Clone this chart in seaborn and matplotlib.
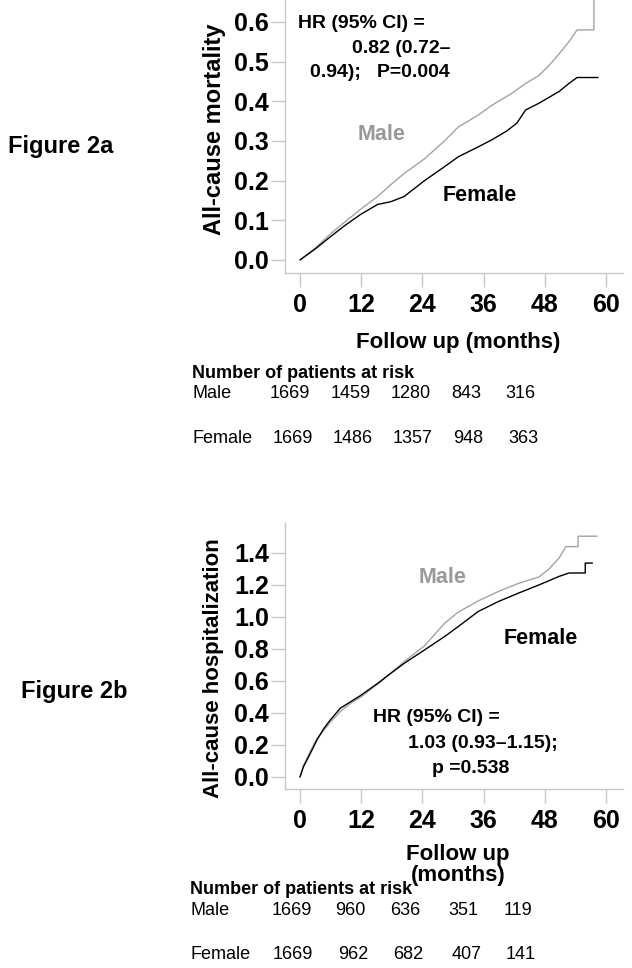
import matplotlib
matplotlib.use("Agg")
import matplotlib.pyplot as plt
import seaborn as sns
import numpy as np
import pandas as pd

W, H = 632, 968

# ---- data ----
# Figure 2a: all-cause mortality (cumulative incidence)
mort_male_t = [0, 3, 5.9, 8.9, 11.9, 15.2, 17.8, 20.4, 24.4, 28.3, 31.0, 34.9, 37.6,
               41.5, 44.2, 46.8, 48.8, 50.8, 52.7, 54.3, 57.6, 57.6]
mort_male_v = [0, .03, .065, .097, .128, .16, .19, .218, .255, .30, .335, .365, .39,
               .42, .445, .465, .49, .52, .55, .58, .58, .80]
mort_female_t = [0, 3, 5.9, 8.9, 11.9, 15.2, 17.8, 20.4, 24.4, 28.3, 31.0, 34.9, 37.6,
                 40.5, 42.5, 44.2, 46.8, 48.8, 50.8, 52.7, 54.3, 58.4]
mort_female_v = [0, .028, .058, .088, .115, .14, .147, .16, .20, .235, .26, .285, .303,
                 .325, .345, .378, .395, .41, .425, .445, .46, .46]

# Figure 2b: all-cause hospitalization (cumulative events)
hosp_male_t = [0, 0.66, 2.0, 3.3, 4.6, 5.9, 7.9, 9.9, 11.9, 15.2, 17.8, 20.4, 24.4, 28.3,
               31.0, 34.9, 38.9, 42.8, 46.8, 48.8, 50.8, 52.1, 54.5, 54.5, 58.2]
hosp_male_v = [0, .07, .16, .24, .29, .34, .41, .46, .50, .58, .65, .72, .82, .96,
               1.03, 1.10, 1.16, 1.21, 1.25, 1.30, 1.37, 1.44, 1.44, 1.505, 1.505]
hosp_female_t = [0, 0.66, 2.0, 3.3, 4.6, 5.9, 7.9, 9.9, 11.9, 15.2, 17.8, 20.4, 24.4, 28.3,
                 31.0, 34.9, 38.9, 42.8, 46.8, 50.8, 52.7, 55.9, 55.9, 57.3]
hosp_female_v = [0, .063, .146, .23, .30, .355, .43, .47, .51, .585, .648, .71, .794, .877,
                 .94, 1.034, 1.097, 1.149, 1.20, 1.254, 1.275, 1.275, 1.337, 1.337]

x_ticks = [0, 12, 24, 36, 48, 60]
mort_yticks = [0.0, 0.1, 0.2, 0.3, 0.4, 0.5, 0.6]
hosp_yticks = [0.0, 0.2, 0.4, 0.6, 0.8, 1.0, 1.2, 1.4]

risk_a_male = [1669, 1459, 1280, 843, 316]
risk_a_female = [1669, 1486, 1357, 948, 363]
risk_b_male = [1669, 960, 636, 351, 119]
risk_b_female = [1669, 962, 682, 407, 141]

# pixel columns of the at-risk numbers
cols_a_male = [290, 351, 411, 466, 520]
cols_a_female = [293, 353, 413, 468, 523]
cols_b_male = [292, 350, 405, 463, 518]
cols_b_female = [293, 353, 408, 467, 521]

MALE_C = "#a3a3a3"
FEMALE_C = "#000000"
SPINE_C = "#c8c8c8"

sns.set_style("ticks")
plt.rcParams["font.family"] = ["Liberation Sans", "DejaVu Sans"]
plt.rcParams["text.color"] = "black"

fig = plt.figure(figsize=(W / 100, H / 100), dpi=100)


def fx(x):
    return x / W


def fy(y):
    return 1 - y / H


def txt(x, y, s, **kw):
    fig.text(fx(x), fy(y), s, **kw)


def make_df(mt, mv, ft, fv):
    return pd.concat([
        pd.DataFrame({"t": mt, "v": mv, "sex": "Male"}),
        pd.DataFrame({"t": ft, "v": fv, "sex": "Female"}),
    ], ignore_index=True)


def style_axes(ax, yticks, ylim):
    ax.set_xlim(-2.94, 63.3)
    ax.set_ylim(*ylim)
    ax.set_xticks(x_ticks)
    ax.set_xticklabels([str(t) for t in x_ticks])
    ax.set_yticks(yticks)
    ax.set_yticklabels([f"{t:.1f}" for t in yticks])
    for s in ["top", "right"]:
        ax.spines[s].set_visible(False)
    for s in ["left", "bottom"]:
        ax.spines[s].set_color(SPINE_C)
        ax.spines[s].set_linewidth(1.0)
    ax.tick_params(axis="both", direction="out", length=10, width=1, color=SPINE_C,
                   labelcolor="black", labelsize=18)
    ax.tick_params(axis="x", pad=4.5)
    ax.tick_params(axis="y", pad=1.5)
    for lbl in ax.get_xticklabels() + ax.get_yticklabels():
        lbl.set_fontweight("bold")
    ax.set_xlabel("")
    ax.set_ylabel("")
    if ax.get_legend() is not None:
        ax.get_legend().remove()


pal = {"Male": MALE_C, "Female": FEMALE_C}

# ---- Figure 2a ----
ax1 = fig.add_axes([fx(285), fy(273), fx(623) - fx(285), 273 / H])
df_a = make_df(mort_male_t, mort_male_v, mort_female_t, mort_female_v)
sns.lineplot(data=df_a, x="t", y="v", hue="sex", estimator=None, sort=False,
             palette=pal, linewidth=1.0, ax=ax1)
style_axes(ax1, mort_yticks, (-0.0328, 0.6554))

# ---- Figure 2b ----
ax2 = fig.add_axes([fx(285), fy(789), fx(623) - fx(285), 266 / H])
df_b = make_df(hosp_male_t, hosp_male_v, hosp_female_t, hosp_female_v)
sns.lineplot(data=df_b, x="t", y="v", hue="sex", estimator=None, sort=False,
             palette=pal, linewidth=1.0, ax=ax2)
style_axes(ax2, hosp_yticks, (-0.075, 1.5875))

bold = dict(fontweight="bold")

# panel titles
txt(8, 153, "Figure 2a", fontsize=17, va="baseline", **bold)
txt(21, 698, "Figure 2b", fontsize=17, va="baseline", **bold)

# y labels
txt(215, 129, "All-cause mortality", fontsize=17, rotation=90, ha="center", va="center", **bold)
txt(214, 668, "All-cause hospitalization", fontsize=16, rotation=90, ha="center", va="center", **bold)

# x labels
txt(458, 348, "Follow up (months)", fontsize=16, ha="center", va="baseline", **bold)
txt(458, 860, "Follow up", fontsize=16, ha="center", va="baseline", **bold)
txt(458, 881, "(months)", fontsize=16, ha="center", va="baseline", **bold)

# HR annotations
txt(298, 28, "HR (95% CI) =", fontsize=14, va="baseline", **bold)
txt(450, 53, "0.82 (0.72–", fontsize=14, ha="right", va="baseline", **bold)
txt(450, 77, "0.94);   P=0.004", fontsize=14, ha="right", va="baseline", **bold)
txt(373, 722, "HR (95% CI) =", fontsize=14, va="baseline", **bold)
txt(408, 748, "1.03 (0.93–1.15);", fontsize=14, va="baseline", **bold)
txt(432, 773, "p =0.538", fontsize=14, va="baseline", **bold)

# curve labels
txt(382, 140, "Male", fontsize=15.5, color="#999999", ha="center", va="baseline", **bold)
txt(480, 201, "Female", fontsize=15.5, color=FEMALE_C, ha="center", va="baseline", **bold)
txt(443, 583, "Male", fontsize=15.5, color="#999999", ha="center", va="baseline", **bold)
txt(541, 644, "Female", fontsize=15.5, color=FEMALE_C, ha="center", va="baseline", **bold)

# number at risk tables
txt(192, 378, "Number of patients at risk", fontsize=13, va="baseline", **bold)
txt(192, 398, "Male", fontsize=13, va="baseline")
txt(192, 443, "Female", fontsize=13, va="baseline")
for x, n in zip(cols_a_male, risk_a_male):
    txt(x, 398, str(n), fontsize=13, ha="center", va="baseline")
for x, n in zip(cols_a_female, risk_a_female):
    txt(x, 443, str(n), fontsize=13, ha="center", va="baseline")

txt(190, 894, "Number of patients at risk", fontsize=13, va="baseline", **bold)
txt(190, 915, "Male", fontsize=13, va="baseline")
txt(190, 959, "Female", fontsize=13, va="baseline")
for x, n in zip(cols_b_male, risk_b_male):
    txt(x, 915, str(n), fontsize=13, ha="center", va="baseline")
for x, n in zip(cols_b_female, risk_b_female):
    txt(x, 959, str(n), fontsize=13, ha="center", va="baseline")

fig.savefig("out.png", dpi=100)
